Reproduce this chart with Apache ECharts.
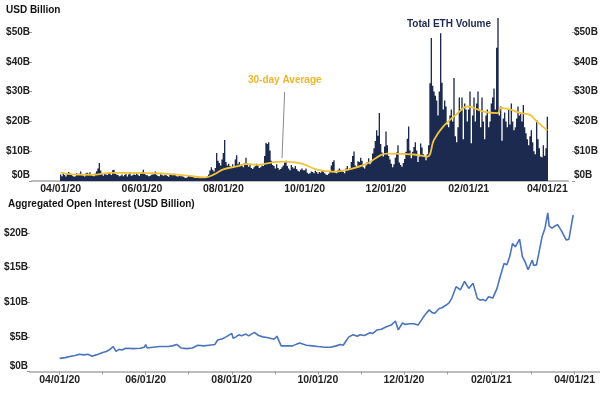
<!DOCTYPE html>
<html>
<head>
<meta charset="utf-8">
<script src="https://cdn.jsdelivr.net/npm/echarts@6/dist/echarts.min.js"></script>
<style>
html, body { margin: 0; padding: 0; background: #fff; }
#main { width: 600px; height: 396px; }
</style>
</head>
<body>
<div id="main"></div>
<script>
var FONT = 'Arial, "Liberation Sans", sans-serif';
var NAVY = '#1b2a4e';
var GOLD = '#f2c23a';
var BLUE = '#4a74bd';
var AXIS = '#bdbdbd';

// x轴标签日期（每两个月）
var labelDates = ['2020-04-01', '2020-06-01', '2020-08-01', '2020-10-01', '2020-12-01', '2021-02-01', '2021-04-01'];

// 每日 ETH 成交量 (USD Billion)，从 2020-04-01 开始
var volApr20 = [2.2,1.6,2.8,2.0,1.5,2.4,3.0,2.6,2.2,1.8, 1.4,1.6,2.6,2.0,2.4,3.2,2.2,1.8,1.5,2.6, 2.8,2.4,2.9,2.1,1.7,1.6,2.5,3.3,4.2,6.0];
var volMay20 = [3.5,2.4,1.8,2.6,2.2,2.0,2.8,2.6,2.0,3.6, 3.8,2.4,2.2,2.0,1.6,1.8,2.2,1.6,2.0,2.4, 1.5,2.2,2.6,1.8,1.9,2.3,2.0,2.5,2.1,1.7, 2.4];
var volJun20 = [3.0,3.8,2.4,2.0,1.9,1.6,1.7,2.1,2.2,2.4, 3.2,2.1,1.7,1.6,2.6,2.0,1.8,1.9,2.0,1.7, 1.4,2.0,2.2,1.9,2.4,1.9,1.6,1.5,1.7,1.6];
var volJul20 = [1.6,1.4,1.2,1.0,1.3,1.8,1.6,1.4,1.5,1.3, 1.0,1.1,1.2,1.4,1.3,1.2,1.0,1.1,1.2,1.5, 2.2,3.5,4.6,3.8,3.2,4.4,9.4,6.8,6.0,5.2, 7.2];
var volAug20 = [9.4,13.8,6.4,5.2,5.8,5.0,4.6,5.6,4.8,7.2, 8.6,5.6,6.4,5.4,5.2,4.6,6.0,7.8,6.0,4.8, 5.6,4.4,4.0,4.6,5.0,5.8,5.2,4.4,4.6,5.2, 5.0];
var volSep20 = [8.4,12.8,12.4,13.0,10.2,6.8,5.4,5.0,4.2,5.6, 4.4,3.8,4.0,4.6,5.2,6.2,6.8,5.0,4.2,3.6, 5.4,4.6,4.2,5.0,4.0,3.4,3.2,3.8,4.2,3.6];
var volOct20 = [3.6,4.2,2.8,2.4,2.6,3.2,3.0,2.6,3.4,3.0, 2.4,3.0,2.8,3.4,3.2,2.6,2.2,2.0,2.4,3.2, 5.2,6.4,7.0,2.8,2.6,3.6,4.2,3.8,3.6,3.0, 2.6];
var volNov20 = [4.2,5.0,3.8,4.4,6.4,8.4,9.9,5.2,4.8,6.6, 6.4,7.8,6.8,4.6,4.2,5.2,6.4,7.6,5.6,6.2, 9.2,11.0,13.4,17.0,15.2,22.8,12.4,9.6,8.2,11.6];
var volDec20 = [16.6,12.0,8.4,7.2,5.8,4.6,5.6,7.8,9.6,12.0, 6.2,5.4,4.8,6.0,7.4,9.8,14.2,18.3,10.2,7.6, 9.8,11.4,13.0,10.2,6.4,8.2,12.6,11.2,9.0,8.4, 7.0];
var volJan21 = [9.0,12.0,32.8,48.0,32.0,30.0,28.6,27.0,22.0,30.0, 49.6,33.0,24.0,27.0,25.0,19.0,18.0,22.0,24.0,20.0, 34.6,15.0,13.0,18.0,28.0,24.0,28.0,14.0,26.0,24.0, 20.0];
var volFeb21 = [24,30,12.7,22,28,20,26,30,24,18, 28,20,14,22,24,18,20,26,28,31, 24,44.7,54.7,22,25,13.5,21,23];
var volMar21 = [20,18,24,19,26,20,17,18,21,25, 22,23,20,25.5,18,16,14,12,15,17, 13,10,9,20.5,14,11,8.2,8.0,12,8.5, 11];
var volApr21 = [21.6];

// 30日均线，读图得到的点
var avgPoints = [
    ['2020-04-01', 2.8], ['2020-04-10', 2.2], ['2020-04-25', 2.1], ['2020-05-08', 2.7],
    ['2020-05-25', 2.7], ['2020-06-10', 2.6], ['2020-06-25', 2.2], ['2020-07-05', 1.8],
    ['2020-07-18', 1.2], ['2020-07-25', 2.2], ['2020-08-01', 3.9], ['2020-08-12', 5.0],
    ['2020-08-18', 5.7], ['2020-08-27', 5.4], ['2020-09-06', 6.2], ['2020-09-14', 6.5],
    ['2020-09-28', 5.9], ['2020-10-11', 3.7], ['2020-10-23', 3.1], ['2020-11-02', 3.7],
    ['2020-11-17', 5.9], ['2020-11-27', 8.7], ['2020-12-02', 9.2], ['2020-12-22', 8.9],
    ['2021-01-01', 8.2], ['2021-01-06', 13.8], ['2021-01-13', 18.3], ['2021-01-24', 22.8],
    ['2021-01-31', 25.0], ['2021-02-05', 24.5], ['2021-02-12', 23.3], ['2021-02-23', 22.8],
    ['2021-02-25', 24.5], ['2021-03-04', 24.0], ['2021-03-12', 22.8], ['2021-03-19', 22.2],
    ['2021-03-24', 20.0], ['2021-04-01', 17.0]
];

// 未平仓合约 (USD Billion)
var oiPoints = [
    ['2020-04-01',1.9],['2020-04-05',2.0],['2020-04-09',2.2],['2020-04-12',2.3],['2020-04-15',2.5],
    ['2020-04-18',2.4],['2020-04-21',2.5],['2020-04-24',2.2],['2020-04-27',2.4],['2020-05-01',2.7],
    ['2020-05-04',2.9],['2020-05-06',3.1],['2020-05-09',3.6],['2020-05-11',2.9],['2020-05-13',3.2],
    ['2020-05-15',3.1],['2020-05-18',3.35],['2020-05-23',3.3],['2020-05-28',3.35],['2020-05-31',3.5],
    ['2020-06-01',3.9],['2020-06-02',3.4],['2020-06-06',3.5],['2020-06-11',3.6],['2020-06-17',3.6],
    ['2020-06-20',3.7],['2020-06-23',3.9],['2020-06-26',3.4],['2020-06-30',3.3],['2020-07-04',3.4],
    ['2020-07-08',3.8],['2020-07-12',3.7],['2020-07-16',3.8],['2020-07-20',3.9],['2020-07-22',4.55],
    ['2020-07-25',4.7],['2020-07-28',5.0],['2020-08-01',5.5],['2020-08-02',4.8],['2020-08-04',5.0],
    ['2020-08-06',5.3],['2020-08-08',5.15],['2020-08-11',5.4],['2020-08-13',5.15],['2020-08-17',5.65],
    ['2020-08-20',5.2],['2020-08-23',5.0],['2020-08-26',4.9],['2020-08-31',4.65],['2020-09-02',5.1],
    ['2020-09-05',3.7],['2020-09-09',3.7],['2020-09-13',3.7],['2020-09-18',4.1],['2020-09-23',3.8],
    ['2020-09-27',3.7],['2020-10-01',3.6],['2020-10-06',3.5],['2020-10-10',3.5],['2020-10-14',3.7],
    ['2020-10-17',3.9],['2020-10-19',3.8],['2020-10-21',4.4],['2020-10-23',5.0],['2020-10-26',5.3],
    ['2020-10-29',5.1],['2020-10-31',5.3],['2020-11-03',5.2],['2020-11-07',5.6],['2020-11-09',5.5],
    ['2020-11-12',6.0],['2020-11-15',6.1],['2020-11-19',6.5],['2020-11-22',6.7],['2020-11-25',7.3],
    ['2020-11-27',6.0],['2020-11-30',7.0],['2020-12-02',6.8],['2020-12-05',6.9],['2020-12-08',6.9],
    ['2020-12-11',6.7],['2020-12-14',7.6],['2020-12-16',8.2],['2020-12-19',8.9],['2020-12-21',8.5],
    ['2020-12-23',8.4],['2020-12-26',9.1],['2020-12-28',9.2],['2020-12-31',9.6],['2021-01-02',9.9],
    ['2021-01-04',10.6],['2021-01-07',12.25],['2021-01-10',11.8],['2021-01-13',13.0],['2021-01-16',12.0],
    ['2021-01-19',12.75],['2021-01-22',10.6],['2021-01-24',10.3],['2021-01-26',10.4],['2021-01-28',10.2],
    ['2021-01-30',10.8],['2021-02-02',10.6],['2021-02-05',12.0],['2021-02-07',13.5],['2021-02-10',15.6],
    ['2021-02-12',15.4],['2021-02-14',16.6],['2021-02-16',18.5],['2021-02-18',18.0],['2021-02-21',19.1],
    ['2021-02-23',16.6],['2021-02-25',15.8],['2021-02-27',14.7],['2021-03-02',16.1],['2021-03-03',15.3],
    ['2021-03-05',15.4],['2021-03-09',19.5],['2021-03-11',20.7],['2021-03-13',22.9],['2021-03-14',21.0],
    ['2021-03-16',20.7],['2021-03-18',21.0],['2021-03-20',21.2],['2021-03-23',20.2],['2021-03-26',19.0],
    ['2021-03-28',19.1],['2021-03-30',21.5],['2021-03-31',22.6]
];

// 生成连续日期 (UTC)
function makeDays(startIso, count) {
    var p = startIso.split('-');
    var base = Date.UTC(+p[0], +p[1] - 1, +p[2]);
    var out = [];
    for (var i = 0; i < count; i++) {
        out.push(new Date(base + i * 86400000).toISOString().slice(0, 10));
    }
    return out;
}

function fmtDate(v) {
    return v.slice(5, 7) + '/' + v.slice(8, 10) + '/' + v.slice(2, 4);
}

var topDays = makeDays('2020-03-11', 402);
var bottomDays = makeDays('2020-03-11', 405);

// 成交量按日期放到类目轴上
var volumes = [].concat(volApr20, volMay20, volJun20, volJul20, volAug20, volSep20,
    volOct20, volNov20, volDec20, volJan21, volFeb21, volMar21, volApr21);
var volDays = makeDays('2020-04-01', volumes.length);
var volMap = {};
for (var i = 0; i < volDays.length; i++) {
    volMap[volDays[i]] = volumes[i];
}
var barData = topDays.map(function (d) {
    return volMap[d] === undefined ? '-' : volMap[d];
});

function yLabel() {
    return {
        margin: 2,
        fontFamily: FONT, fontSize: 10, fontWeight: 'bold', color: '#222',
        formatter: function (v) {
            return v === 0 ? '{z|$0B}' : '$' + v + 'B';
        },
        rich: {
            z: { fontFamily: FONT, fontSize: 10, fontWeight: 'bold', color: '#222', padding: [0, 0, 11, 0] }
        }
    };
}

function xLabel() {
    return {
        margin: 3,
        fontFamily: FONT, fontSize: 10.5, fontWeight: 'bold', color: '#222',
        interval: function (idx, value) { return labelDates.indexOf(value) >= 0; },
        formatter: fmtDate
    };
}

var tickStyle = { show: true, length: 3, lineStyle: { color: '#9a9a9a', width: 1 } };

var chart = echarts.init(document.getElementById('main'));
var option = {
    animation: false,
    backgroundColor: '#fff',
    title: [
        { text: 'USD Billion', left: 6, top: 5, padding: 0, textStyle: { fontFamily: FONT, fontSize: 10, fontWeight: 'bold', color: '#111' } },
        { text: 'Aggregated Open Interest (USD Billion)', left: 8, top: 199, padding: 0, textStyle: { fontFamily: FONT, fontSize: 10, fontWeight: 'bold', color: '#111' } },
        { text: 'Total ETH Volume', left: 407, top: 19, padding: 0, textStyle: { fontFamily: FONT, fontSize: 10, fontWeight: 'bold', color: NAVY } },
        { text: '30-day Average', left: 248, top: 75, padding: 0, textStyle: { fontFamily: FONT, fontSize: 10, fontWeight: 'bold', color: '#f0b52a' } }
    ],
    grid: [
        { left: 32, right: 32, top: 32, height: 149, outerBoundsMode: 'none' },
        { left: 30, right: 0, top: 233, height: 138.5, outerBoundsMode: 'none' }
    ],
    xAxis: [
        {
            type: 'category', gridIndex: 0, data: topDays, boundaryGap: true,
            axisLine: { lineStyle: { color: AXIS, width: 2 } },
            axisTick: { show: false },
            axisLabel: xLabel(),
            splitLine: { show: false }
        },
        {
            type: 'category', gridIndex: 1, data: bottomDays, boundaryGap: false,
            axisLine: { lineStyle: { color: AXIS, width: 2 } },
            axisTick: {
                show: true, length: 3, lineStyle: { color: '#9a9a9a' },
                interval: function (idx, value) { return value.slice(8) === '01'; }
            },
            axisLabel: xLabel(),
            splitLine: { show: false }
        }
    ],
    yAxis: [
        {
            type: 'value', gridIndex: 0, position: 'left', min: 0, max: 50, interval: 10,
            axisLine: { show: false }, axisTick: tickStyle, splitLine: { show: false },
            axisLabel: yLabel()
        },
        {
            type: 'value', gridIndex: 0, position: 'right', offset: 4, min: 0, max: 50, interval: 10,
            axisLine: { show: false }, axisTick: tickStyle, splitLine: { show: false },
            axisLabel: yLabel()
        },
        {
            type: 'value', gridIndex: 1, position: 'left', min: 0, max: 20, interval: 5,
            axisLine: { show: false }, axisTick: tickStyle, splitLine: { show: false },
            axisLabel: yLabel()
        }
    ],
    series: [
        {
            name: 'Total ETH Volume',
            type: 'bar',
            xAxisIndex: 0, yAxisIndex: 0,
            data: barData,
            barCategoryGap: '0%',
            large: true,
            largeThreshold: 100,
            clip: false,
            itemStyle: { color: NAVY }
        },
        {
            name: '30-day Average',
            type: 'line',
            xAxisIndex: 0, yAxisIndex: 0,
            data: avgPoints,
            smooth: 0.4,
            showSymbol: false,
            clip: false,
            z: 5,
            lineStyle: { color: GOLD, width: 1.8 },
            markLine: {
                silent: true,
                symbol: 'none',
                label: { show: false },
                lineStyle: { color: '#8a8a8a', width: 1, type: 'solid' },
                data: [[{ coord: ['2020-09-14', 7.7] }, { coord: ['2020-09-16', 29.9] }]]
            }
        },
        {
            name: 'Aggregated Open Interest',
            type: 'line',
            xAxisIndex: 1, yAxisIndex: 2,
            data: oiPoints,
            showSymbol: false,
            clip: false,
            lineStyle: { color: BLUE, width: 1.6 }
        }
    ]
};
chart.setOption(option);
</script>
</body>
</html>
